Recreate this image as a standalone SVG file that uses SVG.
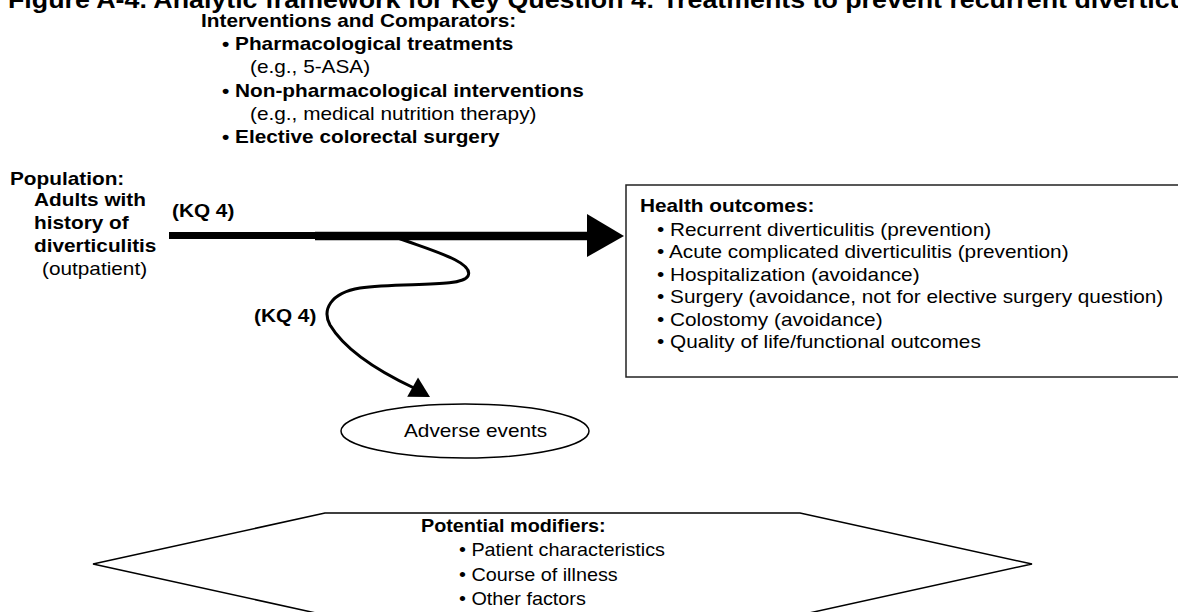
<svg xmlns="http://www.w3.org/2000/svg" width="1178" height="612" viewBox="0 0 1178 612">
<style>
text{font-family:"Liberation Sans",Arial,Helvetica,sans-serif;font-size:18px;fill:#000}
.b{font-weight:bold}
.t{font-size:23px;font-weight:bold}
.box{fill:#fff;stroke:#222;stroke-width:1.5}
.thin{fill:none;stroke:#000;stroke-width:1.5}
</style>
<rect width="1178" height="612" fill="#fff"/>
<text class="t" transform="matrix(1.165 0 0 1 8 8)">Figure A-4. Analytic framework for Key Question 4: Treatments to prevent recurrent diverticulitis</text>
<g id="interventions">
<text class="b" transform="matrix(1.155 0 0 1 201 27)">Interventions and Comparators:</text>
<text class="b" transform="matrix(1.155 0 0 1 222 50)">• Pharmacological treatments</text>
<text transform="matrix(1.155 0 0 1 250 73)">(e.g., 5-ASA)</text>
<text class="b" transform="matrix(1.155 0 0 1 222 97)">• Non-pharmacological interventions</text>
<text transform="matrix(1.155 0 0 1 250 120)">(e.g., medical nutrition therapy)</text>
<text class="b" transform="matrix(1.155 0 0 1 222 143)">• Elective colorectal surgery</text>
</g>
<g id="population">
<text class="b" transform="matrix(1.155 0 0 1 10 185)">Population:</text>
<text class="b" transform="matrix(1.155 0 0 1 34 206)">Adults with</text>
<text class="b" transform="matrix(1.155 0 0 1 34 229)">history of</text>
<text class="b" transform="matrix(1.155 0 0 1 34 252)">diverticulitis</text>
<text transform="matrix(1.155 0 0 1 42 275)">(outpatient)</text>
</g>
<g id="health-outcomes">
<rect class="box" x="626" y="185" width="600" height="192"/>
<text class="b" transform="matrix(1.155 0 0 1 640 212)">Health outcomes:</text>
<text transform="matrix(1.155 0 0 1 657 236)">• Recurrent diverticulitis (prevention)</text>
<text transform="matrix(1.155 0 0 1 657 258)">• Acute complicated diverticulitis (prevention)</text>
<text transform="matrix(1.155 0 0 1 657 281)">• Hospitalization (avoidance)</text>
<text transform="matrix(1.155 0 0 1 657 303)">• Surgery (avoidance, not for elective surgery question)</text>
<text transform="matrix(1.155 0 0 1 657 326)">• Colostomy (avoidance)</text>
<text transform="matrix(1.155 0 0 1 657 348)">• Quality of life/functional outcomes</text>
</g>
<g id="adverse-events">
<ellipse class="thin" cx="465" cy="431" rx="124" ry="27"/>
<text transform="matrix(1.155 0 0 1 404 437)">Adverse events</text>
</g>
<g id="modifiers">
<polygon class="thin" points="93,564 325,513 800,513 1032,564 800,615 325,615"/>
<text class="b" transform="matrix(1.1 0 0 1 421 532)">Potential modifiers:</text>
<text transform="matrix(1.1 0 0 1 459 556)">• Patient characteristics</text>
<text transform="matrix(1.1 0 0 1 459 581)">• Course of illness</text>
<text transform="matrix(1.1 0 0 1 459 605)">• Other factors</text>
</g>
<g id="connectors">
<line x1="169" y1="235.5" x2="316" y2="235.5" stroke="#000" stroke-width="7"/>
<line x1="315" y1="236" x2="590" y2="236" stroke="#000" stroke-width="8.5"/>
<polygon points="587,214 624,236 587,257" fill="#000"/>
<text class="b" transform="matrix(1.155 0 0 1 172 217)">(KQ 4)</text>
<path d="M398,238 C430,250 475,262 468,276 C462,288 400,282 360,288 C330,293 322,310 330,325 C345,350 380,372 414,388" fill="none" stroke="#000" stroke-width="3"/>
<polygon points="418,377.6 430,397 407.2,396.8" fill="#000"/>
<text class="b" transform="matrix(1.155 0 0 1 254 322)">(KQ 4)</text>
</g>
</svg>
